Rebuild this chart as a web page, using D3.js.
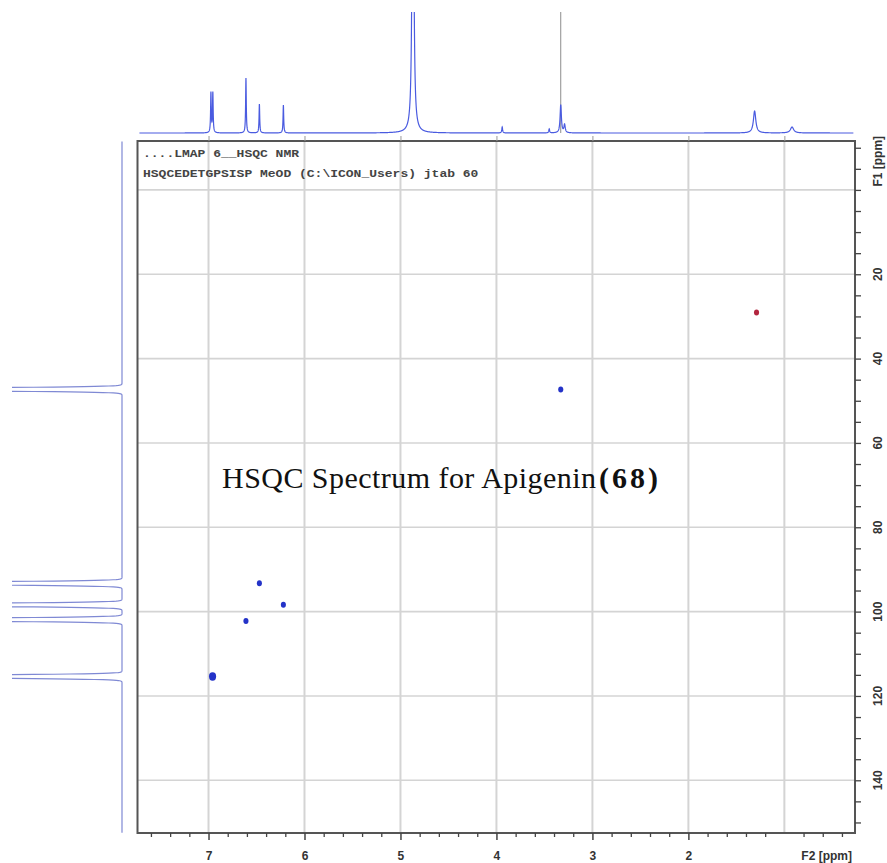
<!DOCTYPE html>
<html>
<head>
<meta charset="utf-8">
<script src="https://cdn.jsdelivr.net/npm/d3@7"></script>
<style>
  html, body { margin: 0; padding: 0; background: #fff; }
  svg { display: block; }
</style>
</head>
<body>
<svg id="chart" width="887" height="863"></svg>
<script>
// ---------------- DATA ----------------
// 2D cross peaks (F2 = 1H ppm, F1 = 13C ppm); phase "+" = CH/CH3 (blue), "-" = CH2 (red)
const crossH     = [6.958, 6.61, 6.47, 6.22, 3.33, 1.29];
const crossC     = [115.4, 102.2, 93.3, 98.4, 47.3, 29.05];
const crossPhase = ["+", "+", "+", "+", "+", "-"];
const crossSize  = [4.2, 3.0, 3.0, 3.0, 3.0, 3.0];

// 1H projection (top): peak position (ppm), intensity (a.u.), half width (ppm)
const hPeakPpm   = [6.975, 6.955, 6.61, 6.47, 6.22, 4.87, 3.94, 3.45, 3.33, 3.29, 1.31, 0.92];
const hPeakInt   = [40, 40, 55, 29, 28, 500, 6, 4, 28, 8, 22, 6];
const hPeakWidth = [0.004, 0.004, 0.004, 0.004, 0.004, 0.008, 0.005, 0.005, 0.008, 0.008, 0.015, 0.02];
const hRefLinePpm = 3.33;   // grey reference line in the 1H trace

// 13C projection (left): peak position (ppm), intensity (a.u.)
const cPeakPpm = [47.3, 93.3, 98.4, 101.9, 115.4];
const cPeakInt = [300, 300, 300, 300, 300];

// axes
const f2Ticks = [7, 6, 5, 4, 3, 2];
const f2Grid  = [7, 6, 5, 4, 3, 2, 1];
const f1Ticks = [20, 40, 60, 80, 100, 120, 140];
const f1Grid  = [0, 20, 40, 60, 80, 100, 120, 140];
const headerLines = ["....LMAP 6__HSQC NMR", "HSQCEDETGPSISP MeOD (C:\\ICON_Users) jtab 60"];
const titleMain = "HSQC Spectrum for Apigenin";
const titleBold = "(68)";

// ---------------- LAYOUT ----------------
const svg = d3.select("#chart");
const fr = { x0: 137.5, x1: 855, y0: 141, y1: 833 };

const x = d3.scaleLinear().domain([7.74, 0.264]).range([fr.x0, fr.x1]);
const y = d3.scaleLinear().domain([-11.6, 152.5]).range([fr.y0, fr.y1]);
const topY  = d3.scaleLinear().domain([0, 120]).range([133, 13]);
const leftX = d3.scaleLinear().domain([0, 110]).range([122, 12]);

// grid
const grid = svg.append("g");
grid.selectAll("line.v").data(f2Grid).join("line")
  .attr("x1", d => x(d)).attr("x2", d => x(d))
  .attr("y1", fr.y0).attr("y2", fr.y1)
  .attr("stroke", "#d4d4d4").attr("stroke-width", 2);
grid.selectAll("line.h").data(f1Grid).join("line")
  .attr("x1", fr.x0).attr("x2", fr.x1)
  .attr("y1", d => y(d)).attr("y2", d => y(d))
  .attr("stroke", "#d4d4d4").attr("stroke-width", 1.6);

// header text
svg.append("g").selectAll("text").data(headerLines).join("text")
  .attr("x", 143).attr("y", (d, i) => 157 + i * 20)
  .attr("font-family", "'Liberation Mono', 'DejaVu Sans Mono', monospace")
  .attr("font-size", 10).attr("font-weight", "bold")
  .attr("fill", "#444")
  .attr("textLength", d => d.length * 7.8)
  .attr("lengthAdjust", "spacingAndGlyphs")
  .text(d => d);

// frame
svg.append("rect")
  .attr("x", fr.x0).attr("y", fr.y0)
  .attr("width", fr.x1 - fr.x0).attr("height", fr.y1 - fr.y0)
  .attr("fill", "none").attr("stroke", "#555").attr("stroke-width", 2);

// bottom axis (F2)
const bottomAxis = d3.axisBottom(x).tickValues(f2Ticks).tickSize(7).tickSizeOuter(0).tickFormat(d3.format("d"));
const gB = svg.append("g").attr("transform", `translate(0,${fr.y1})`).call(bottomAxis);
gB.select(".domain").remove();
gB.selectAll(".tick line").attr("stroke", "#444").attr("stroke-width", 1.5);
gB.selectAll(".tick text").attr("dy", 0).attr("y", 27)
  .attr("font-family", "'Liberation Sans Narrow', 'Liberation Sans', Arial, sans-serif")
  .attr("font-weight", "bold").attr("font-size", 12).attr("fill", "#333");
const minorF2 = d3.range(76, 2, -2).map(v => v / 10).filter(v => Math.abs(v - Math.round(v)) > 0.01);
const minorAxisB = d3.axisBottom(x).tickValues(minorF2).tickSize(4).tickFormat("");
const gBm = svg.append("g").attr("transform", `translate(0,${fr.y1})`).call(minorAxisB);
gBm.select(".domain").remove();
gBm.selectAll(".tick line").attr("stroke", "#444").attr("stroke-width", 1.3);
svg.append("text").attr("x", 852).attr("y", 860).attr("text-anchor", "end")
  .attr("font-family", "'Liberation Sans Narrow', 'Liberation Sans', Arial, sans-serif")
  .attr("font-weight", "bold").attr("font-size", 12).attr("fill", "#333")
  .text("F2 [ppm]");

// top frame small ticks
const topAxis = d3.axisTop(x).tickValues(f2Grid).tickSize(5).tickFormat("");
const gT = svg.append("g").attr("transform", `translate(0,${fr.y0})`).call(topAxis);
gT.select(".domain").remove();
gT.selectAll(".tick line").attr("stroke", "#999").attr("stroke-width", 1);

// right axis (F1)
const rightAxis = d3.axisRight(y).tickValues(d3.range(-10, 155, 5)).tickSize(6).tickFormat("");
const gR = svg.append("g").attr("transform", `translate(${fr.x1},0)`).call(rightAxis);
gR.select(".domain").remove();
gR.selectAll(".tick line").attr("stroke", "#444").attr("stroke-width", 1.3);
svg.append("g").selectAll("text").data(f1Ticks).join("text")
  .attr("transform", d => `translate(882,${y(d)}) rotate(-90)`)
  .attr("text-anchor", "middle")
  .attr("font-family", "'Liberation Sans Narrow', 'Liberation Sans', Arial, sans-serif")
  .attr("font-weight", "bold").attr("font-size", 12).attr("fill", "#333")
  .text(d => d);
svg.append("text")
  .attr("transform", `translate(882,${y(-6.8)}) rotate(-90)`)
  .attr("text-anchor", "middle")
  .attr("font-family", "'Liberation Sans Narrow', 'Liberation Sans', Arial, sans-serif")
  .attr("font-weight", "bold").attr("font-size", 12).attr("fill", "#333")
  .text("F1 [ppm]");

// ---------------- 1H projection (top) ----------------
const defs = svg.append("defs");
defs.append("clipPath").attr("id", "clipTop").append("rect")
  .attr("x", fr.x0).attr("y", 12).attr("width", fr.x1 - fr.x0).attr("height", 128);
defs.append("clipPath").attr("id", "clipLeft").append("rect")
  .attr("x", 12).attr("y", fr.y0).attr("width", 125).attr("height", fr.y1 - fr.y0);

const hSamples = d3.range(7.72, 0.28, -0.001);
const hTrace = hSamples.map(p => {
  let s = 0;
  for (let i = 0; i < hPeakPpm.length; i++) {
    const d = (p - hPeakPpm[i]) / hPeakWidth[i];
    s += hPeakInt[i] / (1 + d * d);
  }
  return [p, s];
});
const gTop = svg.append("g").attr("clip-path", "url(#clipTop)");
gTop.append("line")
  .attr("x1", x(hRefLinePpm)).attr("x2", x(hRefLinePpm))
  .attr("y1", 12).attr("y2", topY(0))
  .attr("stroke", "#8c8c8c").attr("stroke-width", 1);
gTop.append("path")
  .datum(hTrace)
  .attr("d", d3.line().x(d => x(d[0])).y(d => topY(d[1])))
  .attr("fill", "none").attr("stroke", "#4a5be0").attr("stroke-width", 1.2);

// ---------------- 13C projection (left) ----------------
const cSamples = d3.range(-11.5, 152.5, 0.05);
const cSigma = 0.32;
const cTrace = cSamples.map(p => {
  let s = 0;
  for (let i = 0; i < cPeakPpm.length; i++) {
    const d = (p - cPeakPpm[i]) / cSigma;
    s += cPeakInt[i] * Math.exp(-0.5 * d * d);
  }
  return [p, s];
});
const gLeft = svg.append("g").attr("clip-path", "url(#clipLeft)");
gLeft.append("path")
  .datum(cTrace)
  .attr("d", d3.line().x(d => leftX(d[1])).y(d => y(d[0])))
  .attr("fill", "none").attr("stroke", "#7f89d4").attr("stroke-width", 1.2);

// ---------------- cross peaks ----------------
const crossData = crossH.map((h, i) => ({ h, c: crossC[i], phase: crossPhase[i], r: crossSize[i] }));
svg.append("g").selectAll("ellipse").data(crossData).join("ellipse")
  .attr("cx", d => x(d.h)).attr("cy", d => y(d.c))
  .attr("rx", d => d.r * 0.85).attr("ry", d => d.r)
  .attr("fill", d => d.phase === "+" ? "#2433c8" : "#b3263f");

// ---------------- title ----------------
const title = svg.append("g");
title.append("text").attr("x", 222).attr("y", 488)
  .attr("font-family", "'Liberation Serif', 'Times New Roman', serif")
  .attr("font-size", 30).attr("fill", "#111")
  .attr("textLength", 374).attr("lengthAdjust", "spacing")
  .text(titleMain);
title.append("text").attr("x", 599).attr("y", 488)
  .attr("font-family", "'Liberation Serif', 'Times New Roman', serif")
  .attr("font-size", 30).attr("font-weight", "bold").attr("fill", "#111")
  .attr("textLength", 59).attr("lengthAdjust", "spacing")
  .text(titleBold);
</script>
</body>
</html>
